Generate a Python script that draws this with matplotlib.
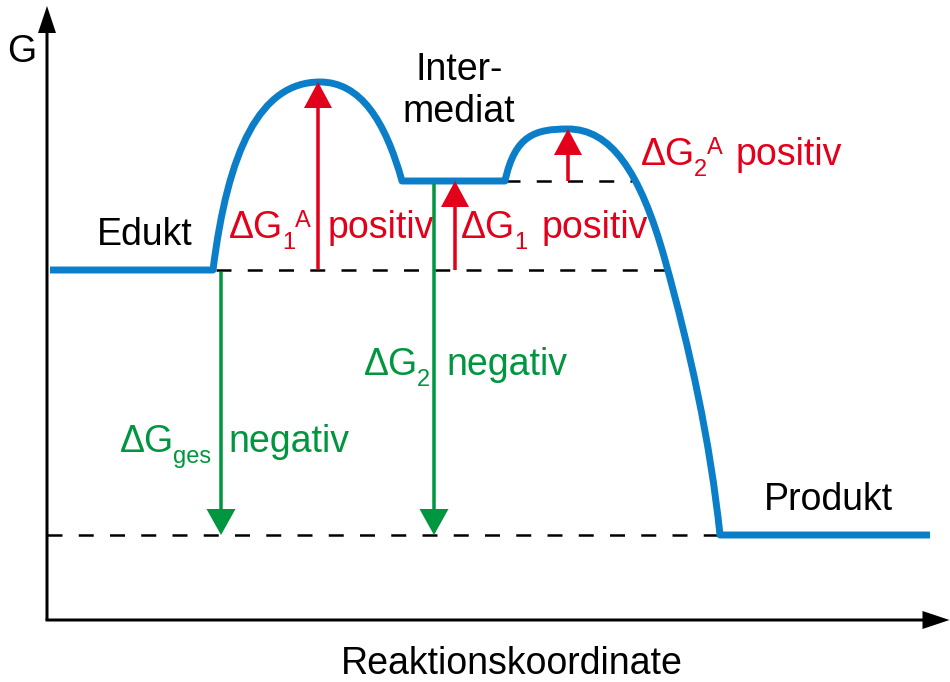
import matplotlib
matplotlib.use("Agg")
import matplotlib.pyplot as plt
from matplotlib.path import Path
from matplotlib.patches import PathPatch
from matplotlib import font_manager

# ---------------- data (x = reaction coordinate, G = free energy) ----------------
levels_G = {"Edukt": 350, "TS1": 538, "Intermediat": 439, "TS2": 491, "Produkt": 85}

curve_x = [50, 213, 228, 260, 320, 360, 385, 402, 505, 515, 535, 568, 610, 640, 665, 690, 710, 720, 930]
curve_G = [350, 350, 470, 538, 538, 538, 500, 439, 439, 485, 491, 491, 491, 450, 360, 270, 180, 85, 85]
curve_codes = [Path.MOVETO, Path.LINETO,
               Path.CURVE4, Path.CURVE4, Path.CURVE4,
               Path.CURVE4, Path.CURVE4, Path.CURVE4,
               Path.LINETO,
               Path.CURVE4, Path.CURVE4, Path.CURVE4,
               Path.CURVE4, Path.CURVE4, Path.CURVE4,
               Path.CURVE4, Path.CURVE4, Path.CURVE4,
               Path.LINETO]

dash_levels = [levels_G["Edukt"], levels_G["Intermediat"], levels_G["Produkt"]]
dash_xstart = [216, 505, 47]
dash_xend = [668, 632, 720]

red_arrow_x = [318, 455, 568]
red_arrow_from = [levels_G["Edukt"], levels_G["Edukt"], levels_G["Intermediat"]]
red_arrow_to = [levels_G["TS1"], levels_G["Intermediat"], levels_G["TS2"]]

green_arrow_x = [221, 434]
green_arrow_from = [levels_G["Edukt"] - 2, levels_G["Intermediat"] - 3]
green_arrow_to = [levels_G["Produkt"], levels_G["Produkt"]]

# ---------------- style ----------------
available = {f.name for f in font_manager.fontManager.ttflist}
main_font = "Liberation Sans Narrow" if "Liberation Sans Narrow" in available else "Liberation Sans"
plt.rcParams["font.family"] = [main_font, "DejaVu Sans"]

BLUE = "#0a7ec8"
RED = "#e3001b"
GREEN = "#00963f"
FS = 27
FS_SUB = 17

fig = plt.figure(figsize=(9.5, 6.82), dpi=100)
ax = fig.add_axes([0, 0, 1, 1])
ax.set_xlim(0, 950)
ax.set_ylim(-62, 620)
ax.axis("off")
renderer = fig.canvas.get_renderer()

# axes arrows
ax.arrow(47, 0, 0, 614, width=3, head_width=18, head_length=27,
         length_includes_head=True, color="black", lw=0)
ax.arrow(45.5, 0, 904, 0, width=3, head_width=18, head_length=27,
         length_includes_head=True, color="black", lw=0)

# dashed reference levels
for g, xs, xe in zip(dash_levels, dash_xstart, dash_xend):
    ax.plot([xs, xe], [g, g], color="black", lw=1.8, linestyle=(0, (6, 6.5)),
            solid_capstyle="butt", dash_capstyle="butt", zorder=2)

# energy curve
path = Path(list(zip(curve_x, curve_G)), curve_codes)
ax.add_patch(PathPatch(path, fill=False, ec=BLUE, lw=5, joinstyle="round",
                       capstyle="butt", zorder=3))

# arrows
for x, g0, g1 in zip(red_arrow_x, red_arrow_from, red_arrow_to):
    ax.arrow(x, g0, 0, g1 - g0, width=3.5, head_width=28, head_length=26,
             length_includes_head=True, color=RED, lw=0, zorder=4)
for x, g0, g1 in zip(green_arrow_x, green_arrow_from, green_arrow_to):
    ax.arrow(x, g0, 0, g1 - g0, width=3.5, head_width=29, head_length=26,
             length_includes_head=True, color=GREEN, lw=0, zorder=4)

# ---------------- labels ----------------
def t(x, y, s, size=FS, color="black", ha="left"):
    return ax.text(x, 620 - y, s, fontsize=size, color=color, ha=ha, va="baseline")

def right_edge(txt):
    bb = txt.get_window_extent(renderer)
    inv = ax.transData.inverted()
    return inv.transform((bb.x1, bb.y0))[0]

def delta_label(x, y, sub, sup, color):
    main = t(x, y, "ΔG", color=color)
    xr = right_edge(main) - 1
    s = t(xr, y + 11, sub, size=FS_SUB, color=color)
    if sup:
        xr2 = right_edge(s)
        t(xr2, y - 11, sup, size=FS_SUB, color=color)

t(22, 62, "G", ha="center")
t(145, 245, "Edukt", ha="center")
t(459, 80, "Inter-", ha="center")
t(459, 122, "mediat", ha="center")
t(828, 510, "Produkt", ha="center")
t(512, 674, "Reaktionskoordinate", ha="center")

delta_label(229, 238, "1", "A", RED)
t(328, 238, "positiv", color=RED)

delta_label(461, 238, "1", None, RED)
t(542, 238, "positiv", color=RED)

delta_label(641, 165, "2", "A", RED)
t(736, 165, "positiv", color=RED)

delta_label(364, 375, "2", None, GREEN)
t(446, 375, "negativ", color=GREEN)

delta_label(120, 452, "ges", None, GREEN)
t(228, 452, "negativ", color=GREEN)

fig.savefig("out.png", dpi=100)
